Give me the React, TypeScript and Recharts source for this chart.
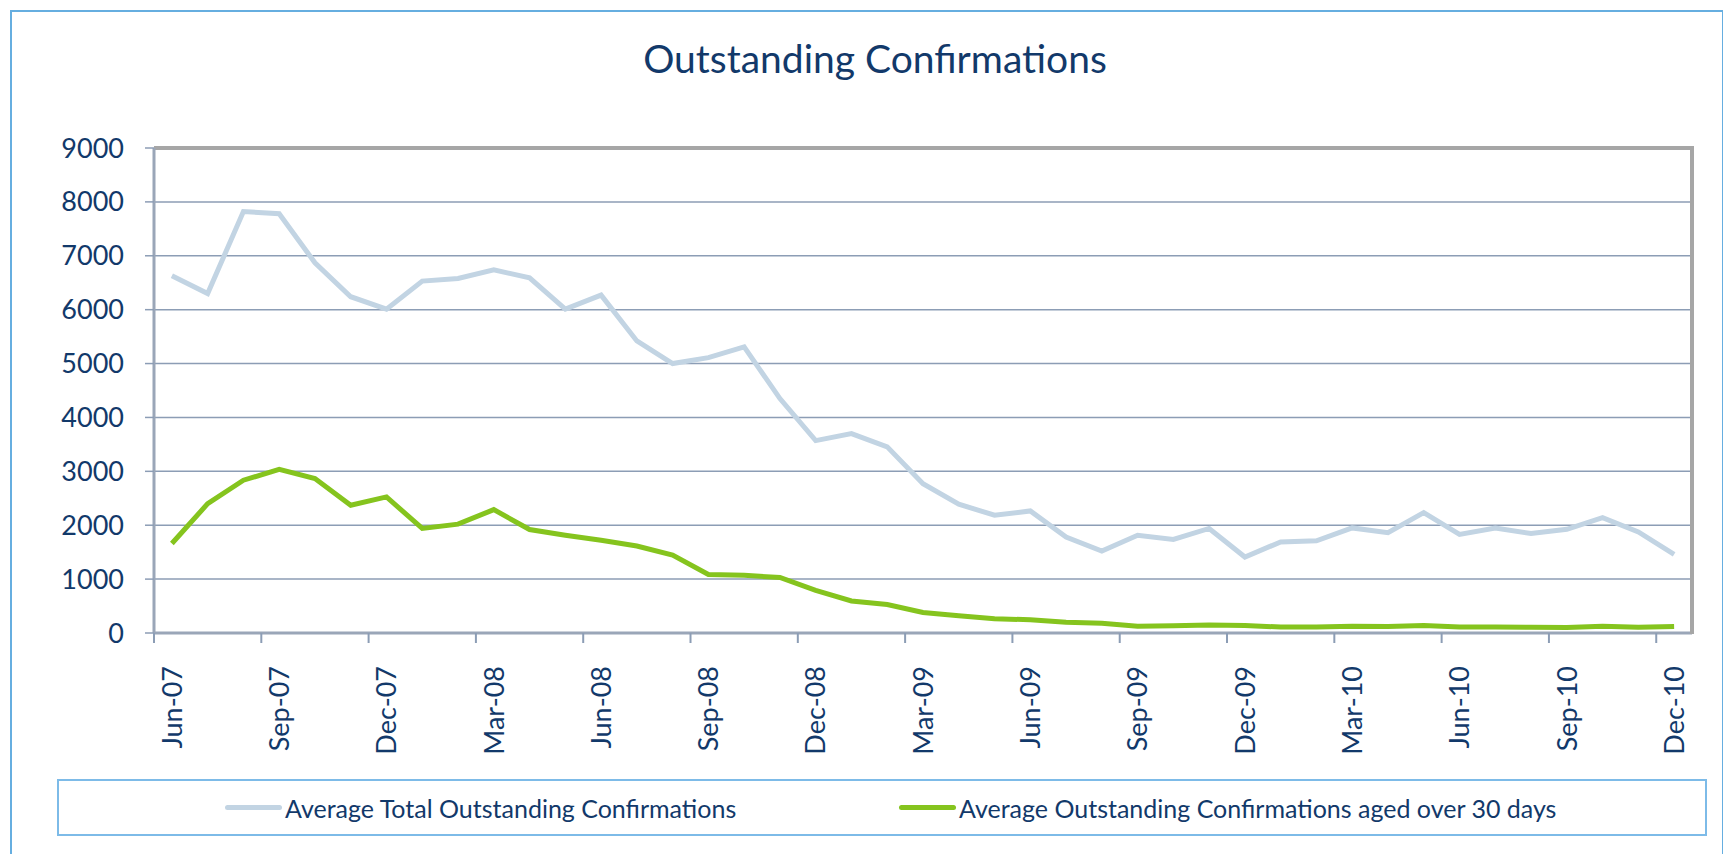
import { CartesianGrid, Legend, Line, LineChart, ReferenceLine, XAxis, YAxis } from 'recharts';

const months = [
  'Jun-07', 'Jul-07', 'Aug-07', 'Sep-07', 'Oct-07', 'Nov-07', 'Dec-07',
  'Jan-08', 'Feb-08', 'Mar-08', 'Apr-08', 'May-08', 'Jun-08', 'Jul-08', 'Aug-08', 'Sep-08', 'Oct-08', 'Nov-08', 'Dec-08',
  'Jan-09', 'Feb-09', 'Mar-09', 'Apr-09', 'May-09', 'Jun-09', 'Jul-09', 'Aug-09', 'Sep-09', 'Oct-09', 'Nov-09', 'Dec-09',
  'Jan-10', 'Feb-10', 'Mar-10', 'Apr-10', 'May-10', 'Jun-10', 'Jul-10', 'Aug-10', 'Sep-10', 'Oct-10', 'Nov-10', 'Dec-10',
];

const totalOutstanding = [
  6630, 6300, 7820, 7780, 6870, 6240, 6010,
  6530, 6580, 6740, 6590, 6010, 6270, 5420, 5000, 5110, 5310, 4350, 3570,
  3700, 3455, 2770, 2390, 2185, 2265, 1780, 1520, 1815, 1735, 1940, 1410,
  1690, 1710, 1950, 1860, 2235, 1830, 1950, 1845, 1925, 2140, 1875, 1460,
];

const agedOver30 = [
  1660, 2400, 2835, 3035, 2865, 2370, 2525,
  1940, 2020, 2290, 1920, 1815, 1720, 1615, 1445, 1085, 1070, 1030, 790,
  595, 530, 380, 320, 265, 245, 200, 180, 125, 135, 150, 140,
  110, 110, 125, 120, 140, 110, 110, 105, 100, 125, 105, 120,
];

const yTicks = [0, 1000, 2000, 3000, 4000, 5000, 6000, 7000, 8000, 9000];

const TITLE = 'Outstanding Confirmations';
const TOTAL_NAME = 'Average Total Outstanding Confirmations';
const AGED_NAME = 'Average Outstanding Confirmations aged over 30 days';

const data = months.map((m, i) => ({ month: m, total: totalOutstanding[i], aged: agedOver30[i] }));

const TEXT = '#12396A';
const FONT = 'Lato, "Open Sans", sans-serif';
const PLOT_LEFT = 154;
const PLOT_RIGHT = 1692;
const PLOT_TOP = 148;
const PLOT_BOTTOM = 633;
const HALF_STEP = (PLOT_RIGHT - PLOT_LEFT) / months.length / 2;

function MonthTick({ x, y, payload }: { x?: number; y?: number; payload?: { value: string } }) {
  if (x == null || y == null || !payload) return null;
  return (
    <g>
      <line x1={x - HALF_STEP} y1={y} x2={x - HALF_STEP} y2={y + 10} stroke="#8C9DB5" strokeWidth={2} />
      <text
        transform={`translate(${x},${y + 33}) rotate(-90)`}
        textAnchor="end"
        dy="0.36em"
        fill={TEXT}
        fontSize={27}
        fontFamily={FONT}
      >
        {payload.value}
      </text>
    </g>
  );
}

function ChartLegend() {
  const item = (left: number, color: string, label: string) => (
    <div style={{ position: 'absolute', left, top: 0, height: 53, display: 'flex', alignItems: 'center' }}>
      <span style={{ display: 'inline-block', width: 57, height: 5, borderRadius: 3, background: color }} />
      <span style={{ marginLeft: 3, fontSize: 25, fontFamily: FONT, color: TEXT, whiteSpace: 'nowrap' }}>{label}</span>
    </div>
  );
  return (
    <div style={{ position: 'relative', width: 1646, height: 53, border: '2px solid #7DBBE8' }}>
      {item(166, '#C2D4E3', TOTAL_NAME)}
      {item(840, '#85C41E', AGED_NAME)}
    </div>
  );
}

export default function App() {
  return (
    <div style={{ position: 'absolute', left: 0, top: 0, width: 1723, height: 854, overflow: 'hidden', background: '#fff' }}>
      <div style={{ position: 'absolute', left: 10, top: 10, width: 1710, height: 900, border: '2px solid #66AEE0' }} />
      <div
        style={{
          position: 'absolute', left: 0, top: 39, width: 1750, textAlign: 'center',
          fontSize: 39, lineHeight: '39px', fontFamily: FONT, color: TEXT,
        }}
      >
        {TITLE}
      </div>
      <div style={{ position: 'absolute', left: 0, top: 0 }}>
        <LineChart width={1723} height={854} data={data} margin={{ top: PLOT_TOP, right: 1723 - PLOT_RIGHT, bottom: 101, left: 54 }}>
          <CartesianGrid vertical={false} stroke="#8C9DB5" strokeWidth={1.5} />
          <XAxis
            dataKey="month"
            interval={2}
            padding={{ left: HALF_STEP, right: HALF_STEP }}
            height={120}
            tickSize={0}
            tickMargin={0}
            tickLine={false}
            axisLine={{ stroke: '#9AA6B8', strokeWidth: 3 }}
            tick={<MonthTick />}
          />
          <YAxis
            domain={[0, 9000]}
            ticks={yTicks}
            width={100}
            tickSize={9}
            tickMargin={21}
            tickLine={{ stroke: '#8C9DB5', strokeWidth: 1.5 }}
            axisLine={{ stroke: '#9AA6B8', strokeWidth: 3 }}
            tick={{ fill: TEXT, fontSize: 27, fontFamily: FONT }}
            interval={0}
          />
          <ReferenceLine y={9000} stroke="#A6A6A6" strokeWidth={4} />
          <Line
            dataKey="total"
            name={TOTAL_NAME}
            stroke="#C2D4E3"
            strokeWidth={5}
            dot={false}
            activeDot={false}
            isAnimationActive={false}
          />
          <Line
            dataKey="aged"
            name={AGED_NAME}
            stroke="#85C41E"
            strokeWidth={5}
            dot={false}
            activeDot={false}
            isAnimationActive={false}
          />
          <Legend
            layout="horizontal"
            verticalAlign="middle"
            align="center"
            wrapperStyle={{ position: 'absolute', left: 57, top: 779, width: 1650, height: 57 }}
            content={<ChartLegend />}
          />
        </LineChart>
      </div>
      <div
        style={{
          position: 'absolute', left: PLOT_RIGHT - 2, top: PLOT_TOP - 2, width: 4,
          height: PLOT_BOTTOM - PLOT_TOP + 3, background: '#A6A6A6',
        }}
      />
    </div>
  );
}
